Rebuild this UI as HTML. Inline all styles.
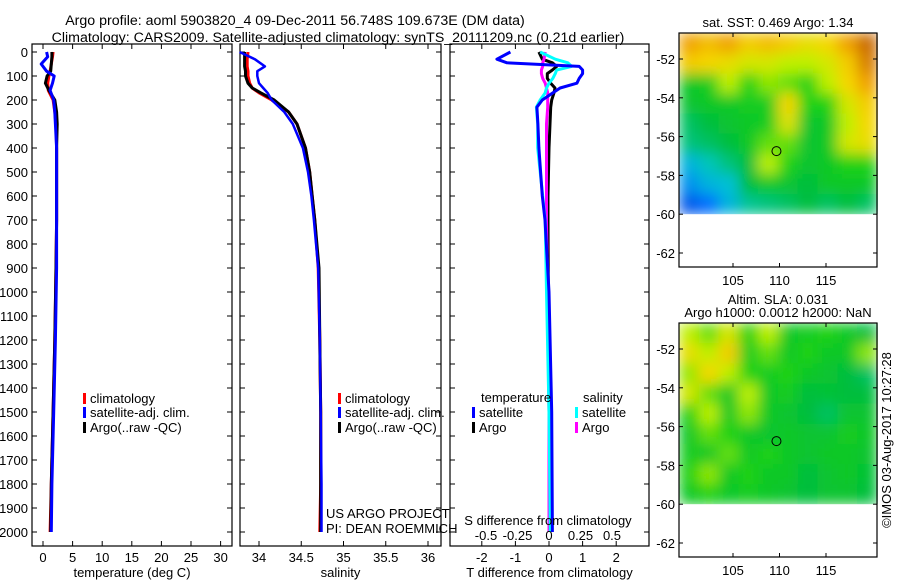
<!DOCTYPE html>
<html><head><meta charset="utf-8"><style>
body{margin:0;background:#fff;width:900px;height:580px;overflow:hidden}
svg{display:block;font-family:"Liberation Sans",sans-serif;font-size:13px}
</style></head><body>
<svg id="fig" width="900" height="580" viewBox="0 0 900 580">
<text x="295" y="25" text-anchor="middle" font-size="14.2">Argo profile: aoml 5903820_4 09-Dec-2011 56.748S 109.673E (DM data)</text>
<text x="338" y="42" text-anchor="middle" font-size="14.2">Climatology: CARS2009. Satellite-adjusted climatology: synTS_20111209.nc (0.21d earlier)</text>
</svg>
<script>
// ---- depth grids and profile data ----
const depthTicks=[0,100,200,300,400,500,600,700,800,900,1000,1100,1200,1300,1400,1500,1600,1700,1800,1900,2000];
const tempDepths=[0,20,50,80,100,130,160,200,250,300,400,500,700,900,1200,1500,1800,2000];
const tempClim=[1.7,1.6,1.4,1.2,1.0,0.8,0.9,1.7,2.0,2.2,2.3,2.3,2.3,2.2,2.0,1.7,1.4,1.2];
const tempSat=[0.6,0.8,-0.3,0.6,1.9,1.6,1.2,1.8,2.0,2.1,2.3,2.3,2.3,2.3,2.1,1.8,1.5,1.4];
const tempArgo=[1.5,1.5,1.4,1.3,0.7,0.4,1.0,2.0,2.3,2.4,2.3,2.3,2.3,2.2,2.0,1.7,1.4,1.3];
const salDepths=[0,30,60,80,100,130,150,170,200,250,300,400,500,600,700,900,1200,1500,1800,2000];
const salClim=[33.87,33.86,33.86,33.87,33.87,33.89,33.92,34.0,34.15,34.35,34.45,34.55,34.6,34.63,34.66,34.7,34.72,34.73,34.73,34.72];
const salArgo=[33.83,33.83,33.83,33.84,33.84,33.87,33.92,34.02,34.18,34.35,34.45,34.55,34.6,34.63,34.66,34.71,34.72,34.73,34.73,34.73];
const salSat=[33.77,33.95,34.07,33.98,33.98,34.0,34.05,34.1,34.15,34.3,34.4,34.52,34.58,34.62,34.65,34.7,34.72,34.73,34.74,34.74];
const diffDepths=[0,30,45,60,75,90,110,130,150,170,200,230,300,400,600,700,1000,1500,2000];
const tDiffSat=[-1.15,-1.55,-1.25,0.9,1.0,1.0,0.9,0.83,0.33,0.12,-0.2,-0.36,-0.33,-0.3,-0.2,-0.12,0.0,0.08,0.1];
const tDiffArgo=[-0.3,-0.2,0.1,0.23,0.1,-0.05,-0.05,0.05,0.18,0.15,0.08,0.05,0.03,0.0,-0.03,-0.03,-0.02,0.0,0.0];
const sDiffSat=[-0.07,0.05,0.15,0.18,0.06,0.05,0.03,0.0,-0.02,-0.03,-0.07,-0.1,-0.09,-0.09,-0.05,-0.03,-0.02,0.0,0.01];
const sDiffArgo=[-0.03,-0.04,-0.05,-0.05,-0.06,-0.06,-0.05,-0.03,-0.02,-0.01,-0.01,-0.01,-0.02,-0.02,-0.02,-0.02,-0.01,0.0,0.0];
const tempTicks=[0,5,10,15,20,25,30];
const salTicks=[34,34.5,35,35.5,36];
const salTickLabels=["34","34.5","35","35.5","36"];
const tdTicks=[-2,-1,0,1,2];
const sdTicks=[-0.5,-0.25,0,0.25,0.5];
// ---- map grids (rows top->bottom, normalized colour value) ----
const sstRows=[
[.8,.75,.8,.72,.75,.72,.68,.7,.8,.88],
[.72,.7,.68,.65,.65,.62,.62,.65,.72,.85],
[.5,.52,.62,.55,.6,.58,.55,.62,.7,.8],
[.48,.5,.5,.52,.52,.7,.55,.55,.65,.72],
[.42,.45,.48,.5,.52,.66,.48,.5,.62,.7],
[.4,.42,.45,.5,.58,.58,.48,.5,.65,.68],
[.3,.35,.4,.45,.62,.55,.48,.5,.55,.55],
[.25,.3,.32,.45,.5,.48,.45,.5,.5,.5],
[.15,.2,.3,.38,.4,.42,.45,.42,.45,.42]];
const slaRows=[
[.62,.58,.65,.55,.62,.5,.52,.55,.5,.45],
[.68,.62,.72,.52,.58,.5,.55,.5,.5,.6],
[.6,.7,.62,.55,.52,.55,.5,.48,.45,.42],
[.65,.58,.5,.62,.5,.52,.45,.47,.45,.45],
[.55,.62,.5,.6,.5,.48,.45,.42,.48,.48],
[.5,.58,.55,.5,.48,.5,.48,.48,.52,.5],
[.52,.5,.58,.5,.55,.5,.48,.5,.5,.48],
[.55,.6,.5,.55,.5,.5,.45,.48,.5,.47],
[.5,.55,.5,.52,.5,.48,.45,.48,.48,.45]];
const latTicks=[-52,-54,-56,-58,-60,-62];
const lonTicks=[105,110,115];
const floatLon=109.673, floatLat=-56.748;

const NS="http://www.w3.org/2000/svg";
const svg=document.getElementById('fig');
function mk(tag,attrs,parent){const e=document.createElementNS(NS,tag);for(const k in attrs)e.setAttribute(k,attrs[k]);(parent||svg).appendChild(e);return e;}
const yD=d=>52+d*0.24;
const panelTop=44,panelBot=546;

function panel(x0,x1,name,xs,ticks,labels,title){
  const g=mk('g',{});
  
  
  const r=mk('rect',{x:x0,y:panelTop,width:x1-x0,height:panelBot-panelTop,fill:'none',stroke:'#000','stroke-width':1.2},g);
  
  
  depthTicks.forEach(d=>{
    mk('line',{x1:x0,x2:x0+5,y1:yD(d),y2:yD(d),stroke:'#000'},g);
    mk('line',{x1:x1,x2:x1-5,y1:yD(d),y2:yD(d),stroke:'#000'},g);
  });
  ticks.forEach((t,i)=>{
    const x=xs(t);
    mk('line',{x1:x,x2:x,y1:panelBot,y2:panelBot-5,stroke:'#000'},g);
    mk('line',{x1:x,x2:x,y1:panelTop,y2:panelTop+5,stroke:'#000'},g);
    if(labels){const tx=mk('text',{x:x,y:562,'text-anchor':'middle'},g);tx.textContent=labels[i];
      
      }
  });
  const tt=mk('text',{x:(x0+x1)/2,y:577,'text-anchor':'middle'},g);tt.textContent=title;
  
  
  return g;
}
function line(g,vals,deps,xs,color,w,name){
  const pts=vals.map((v,i)=>xs(v).toFixed(1)+','+yD(deps[i]).toFixed(1)).join(' ');
  const p=mk('polyline',{points:pts,fill:'none',stroke:color,'stroke-width':w,'stroke-linejoin':'round'},g);
  
  
}
depthTicks.forEach(d=>{const t=mk('text',{x:28,y:yD(d)+5,'text-anchor':'end'});t.textContent=d;
  
  });

const xT=v=>43+v*5.92;
const g1=panel(32,232,'temperature-panel',xT,tempTicks,tempTicks.map(String),'temperature (deg C)');
line(g1,tempClim,tempDepths,xT,'#f00',3,'temp-climatology-line');
line(g1,tempArgo,tempDepths,xT,'#000',3,'temp-argo-line');
line(g1,tempSat,tempDepths,xT,'#00f',3,'temp-satellite-line');
const xS=v=>259+(v-34)*84.5;
const g2=panel(240,441,'salinity-panel',xS,salTicks,salTickLabels,'salinity');
line(g2,salClim,salDepths,xS,'#f00',3,'sal-climatology-line');
line(g2,salArgo,salDepths,xS,'#000',3,'sal-argo-line');
line(g2,salSat,salDepths,xS,'#00f',2.5,'sal-satellite-line');
const xTD=v=>549+v*33.6;
const xSD=v=>549+v*126;
const g3=panel(450,649,'difference-panel',xTD,tdTicks,tdTicks.map(String),'T difference from climatology');
line(g3,tDiffArgo,diffDepths,xTD,'#000',3,'tdiff-argo-line');
line(g3,sDiffArgo,diffDepths,xSD,'#f0f',3,'sdiff-argo-line');
line(g3,sDiffSat,diffDepths,xSD,'#0ff',3,'sdiff-satellite-line');
line(g3,tDiffSat,diffDepths,xTD,'#00f',3,'tdiff-satellite-line');
sdTicks.forEach(t=>{const tx=mk('text',{x:xSD(t),y:540,'text-anchor':'middle'},g3);tx.textContent=String(t);
  
  });
const sdt=mk('text',{x:548,y:525,'text-anchor':'middle'},g3);sdt.textContent='S difference from climatology';



function legItem(x,y,color,label){
  const g=mk('g',{});
  
  
  mk('rect',{x:x,y:y-9,width:3,height:11,fill:color},g);
  const t=mk('text',{x:x+7,y:y+1},g);t.textContent=label;
}
[83,338].forEach(x=>{
  legItem(x,402,'#f00','climatology');
  legItem(x,416,'#00f','satellite-adj. clim.');
  legItem(x,431,'#000','Argo(..raw -QC)');
});
{const t=mk('text',{x:481,y:402});t.textContent='temperature';

const s=mk('text',{x:583,y:402});s.textContent='salinity';
}
legItem(472,416,'#00f','satellite');
legItem(472,431,'#000','Argo');
legItem(575,416,'#0ff','satellite');
legItem(575,431,'#f0f','Argo');
{const a=mk('text',{x:326,y:518});a.textContent='US ARGO PROJECT';

const b=mk('text',{x:326,y:533});b.textContent='PI: DEAN ROEMMICH';
}

const stops=[[0,[0,16,170]],[.2,[0,110,255]],[.33,[0,200,210]],[.45,[0,190,60]],[.55,[30,210,20]],[.62,[190,240,0]],[.7,[245,215,0]],[.8,[240,160,0]],[.9,[190,90,0]],[1,[130,40,0]]];
function cmap(v){for(let i=1;i<stops.length;i++){if(v<=stops[i][0]){const a=stops[i-1],b=stops[i],f=(v-a[0])/(b[0]-a[0]);
  return 'rgb('+a[1].map((c,k)=>Math.round(c+(b[1][k]-c)*f)).join(',')+')';}}return 'rgb(130,40,0)';}
const lonX=lon=>733+(lon-105)*9.3;
const defs=mk('defs',{});
const f=mk('filter',{id:'bl',x:'0',y:'0',width:'1',height:'1',filterUnits:'objectBoundingBox'},defs);
mk('feGaussianBlur',{stdDeviation:'7',edgeMode:'duplicate'},f);
function map(top,rows,name,titles){
  const g=mk('g',{});
  
  
  const latY=lat=>top+26+(-52-lat)*19.4;
  const x0=679,x1=877,yTop=top,yData=latY(-60),yBot=top+234;
  const nr=rows.length,nc=rows[0].length,cw=(x1-x0)/nc,ch=(yData-yTop)/nr;
  const cg=mk('g',{filter:'url(#bl)'},g);
  rows.forEach((row,r)=>row.forEach((v,c)=>{
    const cell=mk('rect',{x:x0+c*cw,y:yTop+r*ch,width:cw+0.6,height:ch+0.6,fill:cmap(v)},cg);
    
    
  }));
  mk('rect',{x:x0-4,y:yData,width:x1-x0+8,height:yBot-yData+2,fill:'#fff'},g);
  const fr=mk('rect',{x:x0,y:yTop,width:x1-x0,height:yBot-yTop,fill:'none',stroke:'#000','stroke-width':1.2},g);
  
  
  latTicks.forEach(l=>{const y=latY(l);
    mk('line',{x1:x0,x2:x0+4,y1:y,y2:y,stroke:'#000'},g);mk('line',{x1:x1,x2:x1-4,y1:y,y2:y,stroke:'#000'},g);
    const t=mk('text',{x:x0-4,y:y+5,'text-anchor':'end'},g);t.textContent=l;
    });
  lonTicks.forEach(l=>{const x=lonX(l);
    mk('line',{x1:x,x2:x,y1:yBot,y2:yBot-4,stroke:'#000'},g);mk('line',{x1:x,x2:x,y1:yTop,y2:yTop+4,stroke:'#000'},g);
    const t=mk('text',{x:x,y:yBot+18,'text-anchor':'middle'},g);t.textContent=l;
    });
  const c=mk('circle',{cx:lonX(floatLon),cy:latY(floatLat),r:4.5,fill:'none',stroke:'#000','stroke-width':1},g);
  
  
  titles.forEach((s,i)=>{const t=mk('text',{x:778,y:top-(titles.length-1-i)*13-6,'text-anchor':'middle'},g);t.textContent=s;
    });
}
map(33,sstRows,'sst-map',['sat. SST: 0.469 Argo: 1.34']);
map(323,slaRows,'sla-map',['Altim. SLA: 0.031','Argo h1000: 0.0012 h2000: NaN']);
{const t=mk('text',{x:0,y:0,transform:'translate(891,440) rotate(-90)','text-anchor':'middle'});
t.textContent='©IMOS 03-Aug-2017 10:27:28';
}
</script>
</body></html>
